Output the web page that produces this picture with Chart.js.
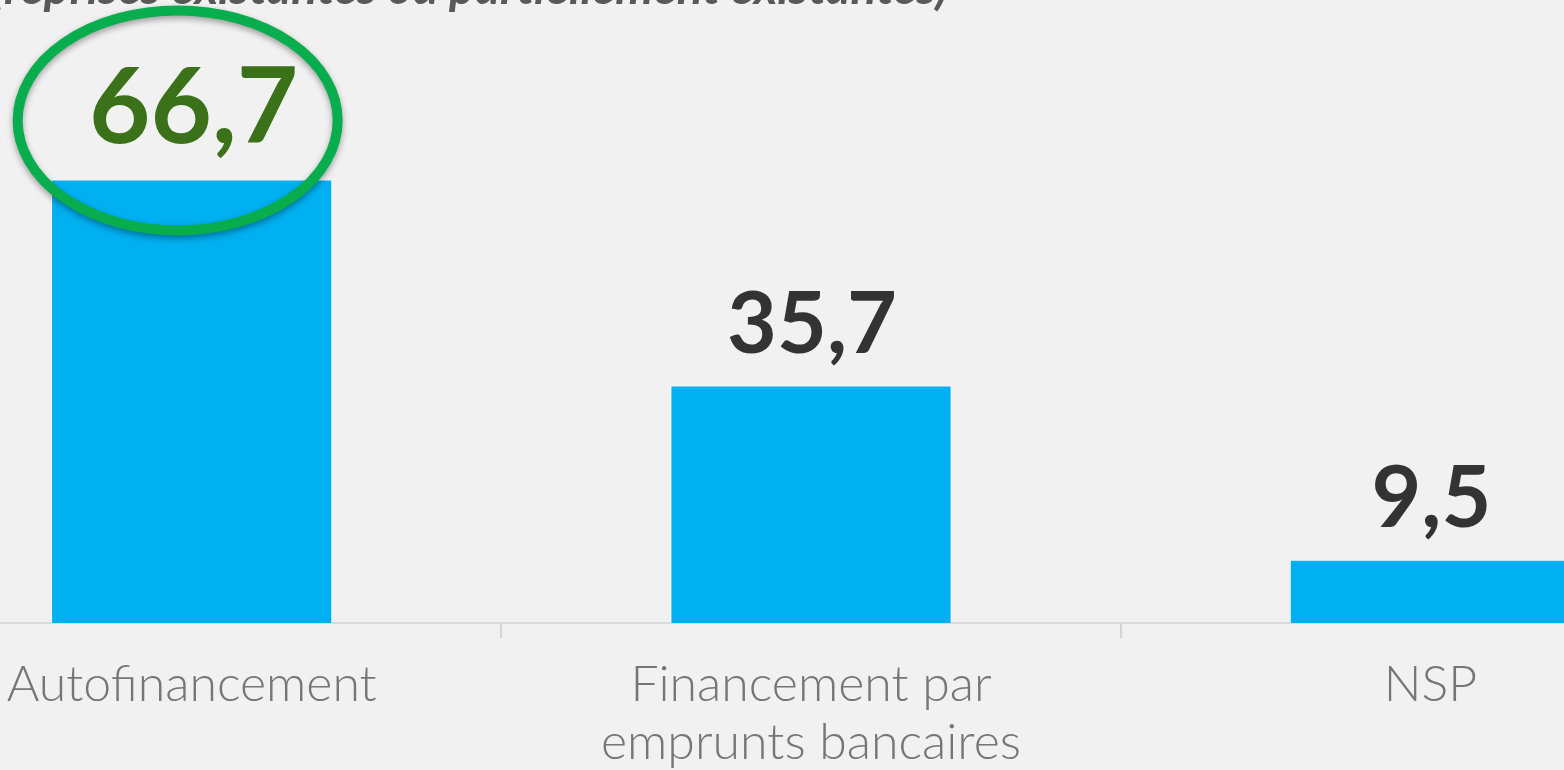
<!DOCTYPE html>
<html>
<head>
<meta charset="utf-8">
<script src="https://cdn.jsdelivr.net/npm/chart.js@4.4.0/dist/chart.umd.min.js"></script>
<style>
    html, body { margin: 0; padding: 0; width: 1564px; height: 770px; overflow: hidden; background: #f1f1f1; }
    #wrap { position: absolute; left: -118px; top: 0; width: 1858px; height: 790px; }
</style>
</head>
<body>
<div id="wrap"><canvas id="financeChart"></canvas></div>
<script>
    // Data
    const categories = ['Autofinancement', ['Financement par', 'emprunts bancaires'], 'NSP'];
    const values = [66.7, 35.7, 9.5];
    const titleText = '(reprises existantes ou partiellement existantes)';

    // value labels above bars, first one highlighted
    const valueLabels = {
        id: 'valueLabels',
        afterDatasetsDraw(chart) {
            const { ctx } = chart;
            const meta = chart.getDatasetMeta(0);
            ctx.save();
            ctx.textAlign = 'center';
            ctx.textBaseline = 'alphabetic';
            meta.data.forEach((bar, i) => {
                const txt = values[i].toFixed(1).replace('.', ',');
                if (i === 0) {
                    ctx.fillStyle = '#3b7219';
                    ctx.font = 'bold 106px Lato';
                    ctx.fillText(txt, bar.x + 2, bar.y - 36);
                } else {
                    ctx.fillStyle = '#333333';
                    ctx.font = 'bold 86px Lato';
                    ctx.fillText(txt, bar.x + 1, bar.y - 33);
                }
            });

            // green ellipse round the highest value
            const top = meta.data[0];
            ctx.shadowColor = 'rgba(0,0,0,0.35)';
            ctx.shadowBlur = 6;
            ctx.shadowOffsetY = 3;
            ctx.strokeStyle = '#08ad4d';
            ctx.lineWidth = 10;
            ctx.beginPath();
            ctx.ellipse(top.x - 14, top.y - 59, 160, 110, 0, 0, Math.PI * 2);
            ctx.stroke();
            ctx.restore();
        }
    };

    // title, cut off at the top of the picture
    const cutTitle = {
        id: 'cutTitle',
        afterDraw(chart) {
            const { ctx } = chart;
            ctx.save();
            ctx.font = 'italic bold 48px Lato';
            ctx.fillStyle = '#595959';
            ctx.textAlign = 'right';
            ctx.fillText(titleText, 948 + 118, 4);
            ctx.restore();
        }
    };

    new Chart(document.getElementById('financeChart'), {
        type: 'bar',
        data: {
            labels: categories,
            datasets: [{
                data: values,
                backgroundColor: '#00b0f0',
                borderColor: '#ffffff',
                borderWidth: 1,
                categoryPercentage: 1,
                barPercentage: 0.454
            }]
        },
        options: {
            responsive: true,
            maintainAspectRatio: false,
            animation: false,
            layout: { padding: { top: 91, left: 0, right: 0, bottom: 0 } },
            plugins: {
                legend: { display: false },
                tooltip: { enabled: false }
            },
            scales: {
                x: {
                    grid: {
                        offset: true,
                        drawOnChartArea: false,
                        tickLength: 15,
                        color: '#d4d4d4',
                        lineWidth: 2
                    },
                    border: { color: '#d9d9d9', width: 2 },
                    ticks: {
                        color: '#767676',
                        padding: 18,
                        maxRotation: 0,
                        autoSkip: false,
                        font: { family: 'Lato', size: 50, weight: '300', lineHeight: 1.16 }
                    }
                },
                y: {
                    display: false,
                    min: 0,
                    max: 80
                }
            }
        },
        plugins: [valueLabels, cutTitle]
    });
</script>
</body>
</html>
